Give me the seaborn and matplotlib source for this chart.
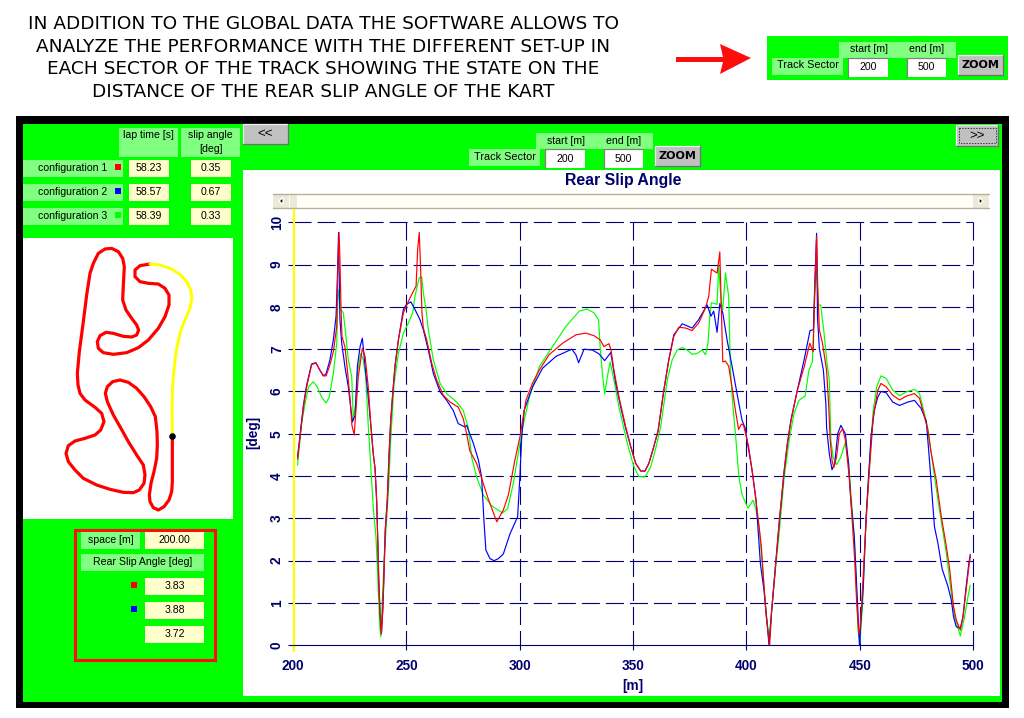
"""Rear slip angle screen: three set-up configurations over a track sector."""

import matplotlib
matplotlib.use("Agg")

import matplotlib.pyplot as plt
import pandas as pd
import seaborn as sns
from matplotlib.patches import Polygon, Rectangle

sns.set_style("white")
plt.rcParams["font.family"] = ["Liberation Sans", "DejaVu Sans"]
plt.rcParams["lines.scale_dashes"] = False

W, H = 1024, 718
NAVY = "#00006e"
GREEN = "#00ff00"
LIGHT = "#80ff80"
CREAM = "#ffffcc"

# --- chart values ---
red_x = [202, 204.6, 206, 208.2, 210.1, 211.9, 213.4, 214.6, 216.3, 217.8, 219.3, 219.7, 220.3, 220.7, 221.2, 221.6,
         222.9, 224, 225.1, 226, 227, 228.8, 230.6, 231.8, 233.2, 234.3, 235.4, 236.2, 236.9, 237.4, 237.8, 238.4,
         239, 239.6, 240.1, 240.7, 241.6, 242.4, 243.1, 244, 245, 246.5, 248.7, 250.9, 253.1, 254.3, 255, 255.7,
         256.3, 256.9, 257.5, 259, 261.2, 263.4, 266.3, 269.3, 272.9, 275.1, 276.6, 278, 281, 283.2, 286.2, 289.9,
         292.8, 295, 297.9, 300.1, 302.8, 305.7, 308.6, 313, 318.9, 324.8, 329.2, 332.8, 335.5, 337.2, 339.4, 340.3,
         341.6, 343.8, 346.8, 349, 351.2, 353.4, 355.3, 357, 359.2, 361.1, 363.6, 365.8, 368, 370.2, 373.2, 376.1,
         379, 382, 383.4, 384.6, 387.1, 388.3, 388.9, 389.6, 390.8, 392.2, 393.7, 395.2, 396.6, 397.8, 398.8, 401,
         402.9, 405.3, 406.6, 407.8, 408.8, 410, 410.3, 411.2, 412.7, 414.5, 416.7, 418.1, 420, 422.5, 425.5, 428,
         429.5, 430.2, 431, 431.5, 432.2, 433.6, 435.4, 436.3, 437, 437.8, 438.6, 439.8, 441, 442.5, 443.7, 445.4,
         446.6, 447.8, 448.7, 449.6, 450.1, 451, 452.1, 453.1, 454.3, 456, 458, 459.4, 461.7, 464.6, 467.6, 470.5,
         474.2, 476.4, 478.6, 480.1, 481.6, 483.8, 486, 488.2, 489.7, 491.4, 492.6, 494.4, 495.6, 497, 498.2, 498.8]
red_y = [4.4, 5.63, 6.1, 6.63, 6.68, 6.5, 6.37, 6.37, 6.63, 6.94, 7.54, 8.73, 9.76, 9.13, 7.94, 7.3,
         7.06, 6.5, 5.87, 5.2, 4.97, 6.35, 7.02, 6.83, 6.11, 5.24, 4.53, 4.18, 3.43, 2.48, 1.6, 0.75,
         0.27, 0.83, 1.6, 2.72, 3.43, 4.53, 5.3, 5.95, 6.6, 7.22, 7.86, 8.13, 8.37, 8.49, 9.37, 9.76,
         8.9, 7.86, 7.5, 7.22, 6.67, 6.27, 5.91, 5.75, 5.63, 5.36, 5.0, 4.6, 4.3, 3.95, 3.45, 2.92,
         3.2, 3.55, 4.38, 4.92, 5.8, 6.2, 6.5, 6.87, 7.14, 7.34, 7.38, 7.32, 7.22, 7.06, 7.13, 6.98,
         6.5, 5.87, 5.16, 4.7, 4.3, 4.12, 4.12, 4.3, 4.7, 5.08, 6.03, 6.75, 7.3, 7.52, 7.5, 7.44,
         7.62, 7.98, 8.25, 8.89, 8.8, 9.3, 8.1, 6.7, 6.72, 6.6, 6.1, 5.55, 5.1, 5.23, 5.2, 4.7,
         4.0, 2.96, 2.35, 1.4, 0.68, 0.13, 0, 0.84, 1.78, 2.9, 4.13, 4.77, 5.4, 6.03, 6.58, 7.14,
         6.94, 8.48, 9.66, 8.48, 7.46, 7.14, 6.5, 5.7, 4.85, 4.37, 4.2, 4.45, 5, 5.12, 4.85, 3.97,
         3.05, 2.02, 1, 0.28, 0.35, 1.08, 2.19, 3.2, 4.15, 5.4, 6.03, 6.19, 6.11, 5.91, 5.8, 5.89,
         5.95, 5.84, 5.4, 5.08, 4.53, 3.9, 3.05, 2.35, 1.8, 0.92, 0.6, 0.36, 0.68, 1.32, 1.87, 2.1]

blue_x = [202, 204.6, 206, 208.2, 210.1, 211.9, 213.4, 214.6, 216.3, 217.8, 219, 219.6, 220.1, 220.7, 221.5, 222.9,
          224.4, 225.6, 226.2, 227.4, 228.4, 229.6, 230.6, 231.8, 233.2, 234.4, 235.4, 236.2, 236.9, 237.4, 237.8,
          238.4, 239, 239.6, 240.1, 240.7, 241.6, 242.4, 243.1, 244, 245, 246.5, 248.7, 250.1, 252, 253.8, 256,
          257.5, 259.7, 261.9, 264.9, 267.8, 270.7, 272.9, 275.9, 276.6, 279.6, 281.8, 283.2, 284.3, 285.1, 286.9,
          288.7, 290.6, 292.8, 295.7, 299.1, 300.1, 300.9, 302, 305.7, 310.1, 316, 323, 324.8, 326, 328.4, 332.1,
          335, 337.5, 340.2, 342.4, 344.6, 346.8, 349, 351.2, 353.4, 355.3, 357, 359.2, 361.1, 363.6, 365.8, 368,
          371.7, 376.1, 379, 382.7, 384.4, 385.6, 387.1, 388.3, 389.6, 391.5, 393.7, 395.9, 398.1, 399.6, 400.3,
          402.5, 404.3, 406.2, 407.8, 409.3, 410, 411.2, 412.7, 414.5, 416.7, 418.1, 419.6, 422.5, 425.5, 428.1,
          429.6, 430.2, 431, 431.4, 432.2, 434, 435.1, 435.4, 436.6, 437.8, 439, 440.3, 441.7, 443.7, 445.1, 446.1,
          447.6, 448.7, 449.9, 450.6, 451.6, 452.8, 455, 456.5, 458, 459.4, 461.7, 464.6, 467.6, 471.2, 474.2,
          477.1, 479.4, 480.8, 482, 483, 484.5, 486.4, 488.9, 490.4, 491.4, 492.6, 494.4, 495.6, 497, 498.2, 498.8]
blue_y = [4.45, 5.68, 6.15, 6.65, 6.68, 6.5, 6.37, 6.42, 6.75, 7.22, 7.78, 8.73, 9.76, 7.7, 7.14, 6.59,
          6.11, 5.55, 5.28, 5.44, 6.59, 7.06, 7.26, 6.59, 5.87, 5.16, 4.53, 4.18, 3.43, 2.48, 1.6,
          0.75, 0.27, 0.83, 1.6, 2.72, 3.43, 4.53, 5.3, 5.95, 6.6, 7.22, 7.94, 8.06, 8.12, 7.94, 7.7,
          7.46, 6.98, 6.43, 5.99, 5.79, 5.55, 5.24, 5.16, 5.2, 4.77, 4.38, 3.98, 2.89, 2.25, 2.05,
          2.0, 2.05, 2.16, 2.63, 3.04, 3.99, 4.92, 5.56, 6.11, 6.55, 6.83, 7.0, 6.87, 6.68, 7.0, 6.98,
          6.89, 6.73, 6.92, 6.19, 5.63, 5.12, 4.7, 4.3, 4.12, 4.12, 4.3, 4.7, 5.08, 6.03, 6.75, 7.34,
          7.6, 7.5, 7.7, 8.05, 7.78, 7.9, 7.4, 8.08, 7.86, 7.22, 6.6, 5.95, 5.32, 5.12, 4.85,
          4.15, 3.43, 1.93, 1.3, 0.44, 0, 0.84, 1.78, 2.9, 4.13, 4.77, 5.3, 6.03, 6.75, 7.44,
          7.46, 8.56, 9.74, 7.75, 7.02, 6.5, 5.7, 5.15, 4.53, 4.15, 4.3, 5, 5.2, 5, 4.3, 3.43,
          2.58, 1.4, 0, 0.6, 1.4, 3, 4.92, 5.56, 5.87, 6, 5.97, 5.75, 5.67, 5.75, 5.79,
          5.6, 5.3, 4.37, 3.5, 2.8, 2.42, 1.8, 1.4, 1.08, 0.68, 0.44, 0.4, 0.68, 1.4, 1.95, 2.15]

green_x = [202, 203.8, 205.3, 206.8, 209, 210.7, 212.6, 214.6, 216, 217.8, 219.3, 219.9, 221, 222.2, 223.2, 224.4,
           225.9, 226.6, 227.6, 228.4, 229.9, 231, 232.1, 233.2, 234.4, 235.4, 236.6, 237.2, 237.8, 238.2, 238.7,
           239.6, 240.3, 241.3, 242.2, 243.1, 244.6, 246.5, 248.7, 250.9, 252.8, 253.8, 255.7, 256.8, 257.5, 258.7,
           259.7, 261.9, 264.9, 267.8, 272.2, 275.1, 277.4, 278.8, 281, 284, 287.6, 292.4, 294.7, 297.2, 299.4, 301.3,
           304.3, 308.7, 314.5, 320.4, 326.3, 329.6, 332.8, 334.8, 335.5, 336.5, 337.5, 338.7, 339.9, 341.6, 343.8,
           345.3, 347.5, 350.4, 352.6, 355.3, 357.8, 360, 362.2, 365.1, 367.3, 369.5, 371.7, 373.9, 376.1, 378.3,
           380.5, 382, 383.1, 384, 384.6, 387.1, 387.8, 388.9, 389.6, 390.8, 392.2, 393, 394, 395.2, 396.7, 398.1,
           400.7, 403, 404.3, 405.6, 407, 408.5, 410, 411.5, 413, 414.5, 416.7, 418.9, 421, 423.2, 425.9, 427.6,
           429.1, 430.2, 431, 431.7, 432.8, 434.3, 435.4, 436.6, 437.3, 438.3, 439.8, 441.7, 443.7, 445.1, 446.1,
           447.6, 448.4, 449.3, 450.1, 451.3, 452.5, 453.7, 455, 456, 457.5, 459.4, 461.7, 464.6, 467.6, 470.5,
           474.2, 476.4, 478.2, 480.1, 483, 485.2, 488.2, 490.4, 491.9, 494.4, 496.3, 497.8, 498.8]
green_y = [4.26, 5.24, 5.71, 6.11, 6.23, 6.11, 5.87, 5.73, 5.87, 6.43, 7.14, 8.41, 7.94, 7.86, 7.38, 6.75,
           6.35, 5.32, 5.71, 6.43, 6.9, 6.75, 6.35, 5.2, 4.15, 3.27, 2.56, 1.85, 1.08, 0.52, 0.2,
           1.3, 2.16, 2.95, 3.75, 4.85, 6.19, 6.9, 7.38, 7.62, 7.86, 8.25, 8.69, 8.71, 8.33, 7.94,
           7.46, 6.75, 6.19, 5.95, 5.75, 5.55, 5.13, 4.45, 3.98, 3.55, 3.3, 3.13, 3.23, 3.83, 4.53, 5.15,
           5.87, 6.59, 7.06, 7.54, 7.9, 7.95, 7.86, 7.7, 7.06, 6.43, 5.94, 6.35, 6.7, 6.27, 5.63,
           5.28, 4.77, 4.22, 3.99, 3.98, 4.22, 4.65, 5.16, 6.27, 6.75, 6.98, 7.04, 6.98, 6.88, 6.9,
           6.98, 6.87, 7.14, 7.86, 8.1, 8.06, 8.97, 8.1, 7.94, 8.8, 8.25, 6.5, 5.7, 5.0, 3.99, 3.56,
           3.24, 3.43, 3.2, 2.8, 1.95, 0.9, 0.13, 1, 1.88, 2.66, 3.97, 4.85, 5.47, 5.79, 5.89, 6.5,
           6.7, 8.25, 9.02, 8.05, 8.04, 7.38, 6.75, 6.27, 4.85, 4.45, 4.27, 4.45, 4.8, 4.3, 3.6,
           2.58, 1.55, 0.36, 0.05, 1, 2.58, 3.75, 4.85, 5.56, 6.11, 6.37, 6.31, 6.03, 5.9, 5.99,
           6.05, 5.95, 5.56, 5.12, 3.99, 3.2, 2.19, 1.24, 0.68, 0.22, 0.68, 1.16, 1.42]

x_ticks = [200, 250, 300, 350, 400, 450, 500]
y_ticks = list(range(0, 11))

configs = ["configuration 1", "configuration 2", "configuration 3"]
lap_times = ["58.23", "58.57", "58.39"]
slip_angles = ["0.35", "0.67", "0.33"]
cursor_values = ["3.83", "3.88", "3.72"]
heading = ["IN ADDITION TO THE GLOBAL DATA THE SOFTWARE ALLOWS TO",
           "ANALYZE THE PERFORMANCE WITH THE DIFFERENT SET-UP IN",
           "EACH SECTOR OF THE TRACK SHOWING THE STATE ON THE",
           "DISTANCE OF THE REAR SLIP ANGLE OF THE KART"]

track_red_x = [457, 457, 457, 455, 447, 432, 415, 400, 390, 388, 393, 402, 410, 412, 411, 406, 392, 372, 350, 325,
               300, 278, 262, 256, 262, 280, 300, 325, 350, 370, 375, 372, 358, 340, 310, 270, 230, 190, 165, 145,
               138, 145, 165, 195, 225, 242, 252, 245, 225, 195, 180, 174, 172, 178, 190, 200, 210, 220, 235, 255,
               275, 295, 308, 313, 310, 308, 318, 335, 350, 356, 350, 335, 310, 280, 258, 240, 232, 235, 250, 280,
               320, 355, 385, 415, 435, 447, 447, 435, 415, 385, 360, 345, 345, 360, 390]
track_red_y = [602, 660, 740, 770, 795, 815, 825, 818, 800, 780, 745, 710, 670, 630, 590, 545, 515, 485, 460, 442,
               435, 440, 455, 475, 500, 540, 575, 620, 660, 690, 720, 745, 765, 773, 772, 763, 750, 730, 705, 680,
               655, 632, 618, 610, 600, 585, 560, 535, 517, 495, 475, 450, 415, 350, 260, 180, 115, 85, 55, 42,
               40, 50, 70, 95, 150, 195, 225, 250, 270, 285, 300, 306, 304, 295, 292, 302, 320, 340, 353, 358,
               353, 338, 315, 280, 245, 210, 180, 160, 147, 145, 140, 125, 105, 92, 87]
track_yellow_x = [390, 420, 450, 480, 500, 512, 516, 510, 497, 483, 472, 465, 460, 457, 456, 457]
track_yellow_y = [87, 90, 100, 118, 140, 165, 190, 220, 250, 285, 330, 375, 425, 470, 530, 602]

fig = plt.figure(figsize=(W / 100, H / 100), dpi=100, facecolor="white")

# background layer in pixel coordinates for the window chrome
bg = fig.add_axes([0, 0, 1, 1], zorder=0)
bg.set_xlim(0, W)
bg.set_ylim(H, 0)
bg.axis("off")


def box(x0, y0, x1, y1, color, **kw):
    bg.add_patch(Rectangle((x0, y0), x1 - x0, y1 - y0, facecolor=color, edgecolor="none", **kw))


def label(x, y, s, size=7.6, color="black", **kw):
    bg.text(x, y, s, fontsize=size, color=color, ha="center", va="center", **kw)


def button(x0, y0, x1, y1, s, size=8.5, **kw):
    box(x0, y0, x1, y1, "#c0c0c0")
    bg.plot([x0, x0, x1], [y1, y0, y0], color="#f0f0f0", lw=0.9)
    bg.plot([x0, x1, x1], [y1, y1, y0], color="#707070", lw=0.9)
    label((x0 + x1) / 2, (y0 + y1) / 2, s, size=size, **kw)


def sector_panel(dx, dy):
    box(839 + dx, 42 + dy, 956 + dx, 58 + dy, LIGHT)
    box(772 + dx, 58 + dy, 843 + dx, 75 + dy, LIGHT)
    label(808 + dx, 65.5 + dy, "Track Sector", size=7.8)
    label(869 + dx, 49.5 + dy, "start [m]")
    label(927 + dx, 49.5 + dy, "end [m]")
    for x0, x1, s in [(848, 888, "200"), (907, 946, "500")]:
        box(x0 + dx, 58 + dy, x1 + dx, 77 + dy, "white")
        bg.plot([x0 + dx, x0 + dx, x1 + dx], [77 + dy, 58 + dy, 58 + dy], color="#808080", lw=0.9)
        label((x0 + x1) / 2 + dx, 67.5 + dy, s)
    button(958 + dx, 55 + dy, 1003 + dx, 75 + dy, "ZOOM", size=8, family="DejaVu Sans", weight="bold")


# heading and arrow
for i, line in enumerate(heading):
    label(323.5, 24 + i * 22.7, line, size=13.3, family="DejaVu Sans")
bg.add_patch(Polygon([(676, 57), (723, 57), (720, 44), (751, 58), (720, 74), (723, 62), (676, 62)],
                     closed=True, facecolor="#ff0d0d", edgecolor="none"))
box(767, 36, 1008, 80, GREEN)
sector_panel(0, 0)

# main window
box(16, 116, 1009, 708, "black")
box(23, 124, 1002, 702, GREEN)
box(243, 170, 1000, 696, "white")
box(23, 238, 233, 519, "white")
sector_panel(-303, 91)
button(243, 124, 288, 144, "<<", size=9.5)
button(956, 125, 998, 146, ">>", size=9.5)
bg.add_patch(Rectangle((959, 128), 37, 15, facecolor="none", edgecolor="black", lw=0.5, ls=(0, (1, 1))))

# results table
box(119, 128, 178, 157, LIGHT)
box(181, 128, 240, 157, LIGHT)
label(148.5, 135.5, "lap time [s]")
label(210.5, 135.5, "slip angle")
label(210.5, 148.5, "[deg]")
for i, (cfg, lap, slip, col) in enumerate(zip(configs, lap_times, slip_angles, ["red", "blue", GREEN])):
    y0 = 160 + i * 24
    box(23, y0, 123, y0 + 17, LIGHT)
    box(115, y0 + 4, 121, y0 + 10, col)
    box(129, y0, 169, y0 + 17, CREAM)
    box(191, y0, 231, y0 + 17, CREAM)
    label(73, y0 + 8, cfg)
    label(149, y0 + 8, lap)
    label(211, y0 + 8, slip)

# cursor read-out
bg.add_patch(Rectangle((74.5, 529.5), 140, 130, facecolor="none", edgecolor="#ff0d0d", lw=2.2))
box(81, 532, 140, 549, LIGHT)
box(145, 532, 204, 549, CREAM)
box(81, 554, 204, 571, LIGHT)
label(110.5, 540, "space [m]")
label(174.5, 540, "200.00")
label(142.5, 562, "Rear Slip Angle [deg]")
for i, (val, col) in enumerate(zip(cursor_values, ["red", "blue", None])):
    y0 = 578 + i * 24
    box(145, y0, 204, y0 + 17, CREAM)
    label(174.5, y0 + 8, val)
    if col:
        box(131, y0 + 4, 137, y0 + 10, col)

# scrollbar
box(273, 194, 989, 208, "#fffff5")
bg.plot([273, 989], [194, 194], color="#b5b09e", lw=1)
bg.plot([273, 989], [208, 208], color="#b5b09e", lw=1)
box(273, 195, 289, 208, "#ece9d8")
box(290, 195, 297, 208, "#ece9d8")
box(973, 195, 989, 208, "#ece9d8")
bg.add_patch(Polygon([(283, 197.5), (283, 204.5), (279, 201)], closed=True, facecolor="black"))
bg.add_patch(Polygon([(979, 197.5), (979, 204.5), (983, 201)], closed=True, facecolor="black"))

label(623.5, 181, "Rear Slip Angle", size=11.4, color=NAVY, weight="bold")
label(633, 686, "[m]", size=9.8, color=NAVY, weight="bold")
label(253.5, 432, "[deg]", size=9.8, color=NAVY, weight="bold", rotation=90)

# track map
track = fig.add_axes([20 / W, 1 - (235 + 290) / H, 220 / W, 290 / H], zorder=1)
track.set_xlim(0, 660)
track.set_ylim(870, 0)
track.axis("off")
track.patch.set_alpha(0)
track_df = pd.DataFrame({"x": track_red_x, "y": track_red_y})
sns.lineplot(data=track_df, x="x", y="y", estimator=None, sort=False, color="#ff0000", lw=2.3,
             solid_joinstyle="round", ax=track)
track_df2 = pd.DataFrame({"x": track_yellow_x, "y": track_yellow_y})
sns.lineplot(data=track_df2, x="x", y="y", estimator=None, sort=False, color="#ffff00", lw=2.1,
             solid_joinstyle="round", ax=track)
track.scatter([457], [602], s=14, color="black", zorder=5)

# main chart
ax = fig.add_axes([293 / W, 1 - 645.3 / H, 680 / W, 423 / H], zorder=2)
ax.patch.set_alpha(0)
df = pd.concat([
    pd.DataFrame({"dist": green_x, "slip": green_y, "config": "configuration 3"}),
    pd.DataFrame({"dist": blue_x, "slip": blue_y, "config": "configuration 2"}),
    pd.DataFrame({"dist": red_x, "slip": red_y, "config": "configuration 1"}),
])
sns.lineplot(data=df, x="dist", y="slip", hue="config", estimator=None, sort=False, legend=False, lw=0.85,
             palette={"configuration 1": "#ff0000", "configuration 2": "#0000ff", "configuration 3": "#00ff00"},
             ax=ax, zorder=3)
ax.set_xlim(200, 500)
ax.set_ylim(0, 10)
ax.set_xticks(x_ticks)
ax.set_yticks(y_ticks)
dash = (0, (13, 4.3))
for t in y_ticks[1:]:
    ax.axhline(t, color=NAVY, lw=0.8, ls=dash, zorder=1, clip_on=False)
for t in x_ticks[1:]:
    ax.axvline(t, ymin=1, ymax=0, color=NAVY, lw=0.8, ls=dash, zorder=1, clip_on=False)
ax.axvline(200.5, ymin=-0.013, ymax=1.03, color="#ffff00", lw=1.6, zorder=2, clip_on=False)
sns.despine(ax=ax, left=True, top=True, right=True)
ax.spines["bottom"].set_color(NAVY)
ax.spines["bottom"].set_linewidth(0.8)
ax.tick_params(axis="both", length=3.5, width=0.8, color=NAVY, labelcolor=NAVY, labelsize=9.8, left=True, bottom=True)
ax.tick_params(axis="x", pad=6.2)
ax.tick_params(axis="y", pad=3)
for t in ax.get_xticklabels() + ax.get_yticklabels():
    t.set_fontweight("bold")
plt.setp(ax.get_yticklabels(), rotation=90, va="center")
ax.set_xlabel("")
ax.set_ylabel("")

fig.savefig("out.png", dpi=100)
